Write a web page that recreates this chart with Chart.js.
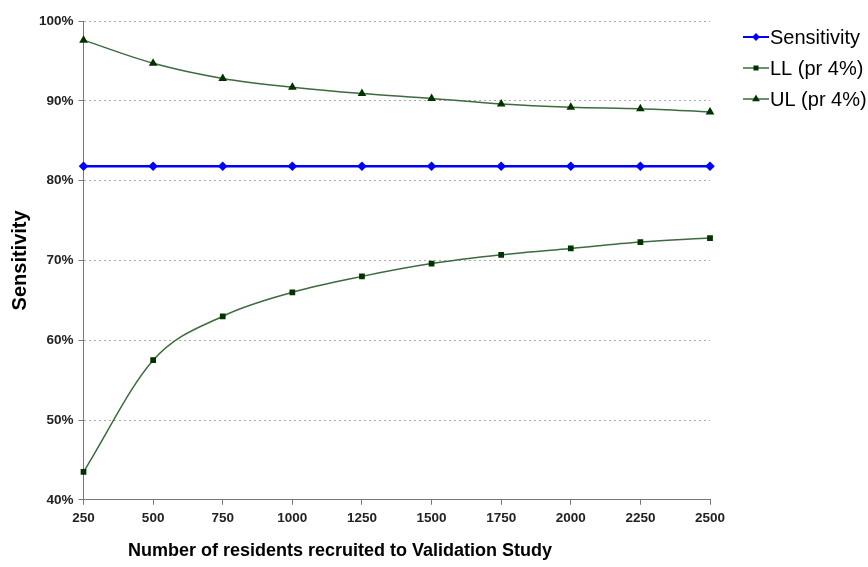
<!DOCTYPE html>
<html>
<head>
<meta charset="utf-8">
<script src="https://cdn.jsdelivr.net/npm/chart.js@4"></script>
<style>
  html, body { margin: 0; padding: 0; background: #fff; }
  #wrap { width: 868px; height: 567px; }
</style>
</head>
<body>
<div id="wrap"><canvas id="myChart" width="868" height="567"></canvas></div>
<script>
// values (percent)
const residents = [250, 500, 750, 1000, 1250, 1500, 1750, 2000, 2250, 2500];
const sensitivity = [81.8, 81.8, 81.8, 81.8, 81.8, 81.8, 81.8, 81.8, 81.8, 81.8];
const lowerLimit = [43.5, 57.5, 63.0, 66.0, 68.0, 69.6, 70.7, 71.5, 72.3, 72.8];
const upperLimit = [97.6, 94.7, 92.8, 91.7, 90.9, 90.3, 89.6, 89.2, 89.0, 88.6];
const seriesNames = ['Sensitivity', 'LL (pr 4%)', 'UL (pr 4%)'];

const font = 'Arial, "Liberation Sans", sans-serif';

// legend drawn like Excel: short line with the marker on it
const sideLegend = {
  id: 'sideLegend',
  afterDraw(chart) {
    const ctx = chart.ctx;
    chart.data.datasets.forEach((ds, i) => {
      const y = 37 + i * 31;
      ctx.save();
      ctx.strokeStyle = ds.borderColor;
      ctx.lineWidth = Math.min(ds.borderWidth, 2);
      ctx.beginPath();
      ctx.moveTo(743, y);
      ctx.lineTo(769, y);
      ctx.stroke();
      ctx.fillStyle = ds.pointBackgroundColor;
      ctx.strokeStyle = ds.pointBorderColor;
      Chart.helpers.drawPoint(ctx, {
        pointStyle: ds.pointStyle, radius: ds.pointRadius - 0.5, borderWidth: 1
      }, 756, y);
      ctx.fillStyle = '#000';
      ctx.font = '20px ' + font;
      ctx.textBaseline = 'middle';
      ctx.fillText(ds.label, 770, y + 1);
      ctx.restore();
    });
    // x axis title, offset left as in the original
    ctx.save();
    ctx.fillStyle = '#000';
    ctx.font = 'bold 18px ' + font;
    ctx.textAlign = 'center';
    ctx.textBaseline = 'middle';
    ctx.fillText('Number of residents recruited to Validation Study', 340, 551);
    ctx.restore();
  }
};

const ctx = document.getElementById('myChart');
new Chart(ctx, {
  type: 'line',
  data: {
    labels: residents,
    datasets: [
      {
        label: seriesNames[0], data: sensitivity,
        borderColor: '#0000ff', borderWidth: 2.5,
        pointStyle: 'rectRot', pointRadius: 3,
        pointBackgroundColor: '#0000ff', pointBorderColor: '#0000ff'
      },
      {
        label: seriesNames[1], data: lowerLimit,
        borderColor: '#3d6b3d', borderWidth: 1.5, cubicInterpolationMode: 'monotone',
        pointStyle: 'rect', pointRadius: 3,
        pointBackgroundColor: '#003300', pointBorderColor: '#003300'
      },
      {
        label: seriesNames[2], data: upperLimit,
        borderColor: '#3d6b3d', borderWidth: 1.5, cubicInterpolationMode: 'monotone',
        pointStyle: 'triangle', pointRadius: 3.5,
        pointBackgroundColor: '#003300', pointBorderColor: '#003300'
      }
    ]
  },
  options: {
    responsive: false,
    animation: false,
    layout: { padding: { left: 6, right: 158, top: 21, bottom: 36 } },
    plugins: { legend: { display: false }, tooltip: { enabled: false } },
    scales: {
      x: {
        type: 'category',
        offset: false,
        grid: { drawOnChartArea: false, color: '#777', tickLength: 5 },
        border: { color: '#777', width: 1 },
        ticks: { color: '#222', font: { family: font, size: 13.5, weight: 'bold' }, padding: 5, maxRotation: 0 }
      },
      y: {
        min: 40, max: 100,
        ticks: {
          stepSize: 10, color: '#222', padding: 5,
          font: { family: font, size: 13.5, weight: 'bold' },
          callback: v => v + '%'
        },
        grid: { color: '#aaa', tickColor: '#777', tickLength: 5 },
        border: { color: '#777', width: 1, dash: [2, 3] },
        title: { display: true, text: 'Sensitivity', color: '#000', font: { family: font, size: 20, weight: 'bold' }, padding: 2 }
      }
    }
  },
  plugins: [sideLegend]
});
</script>
</body>
</html>
